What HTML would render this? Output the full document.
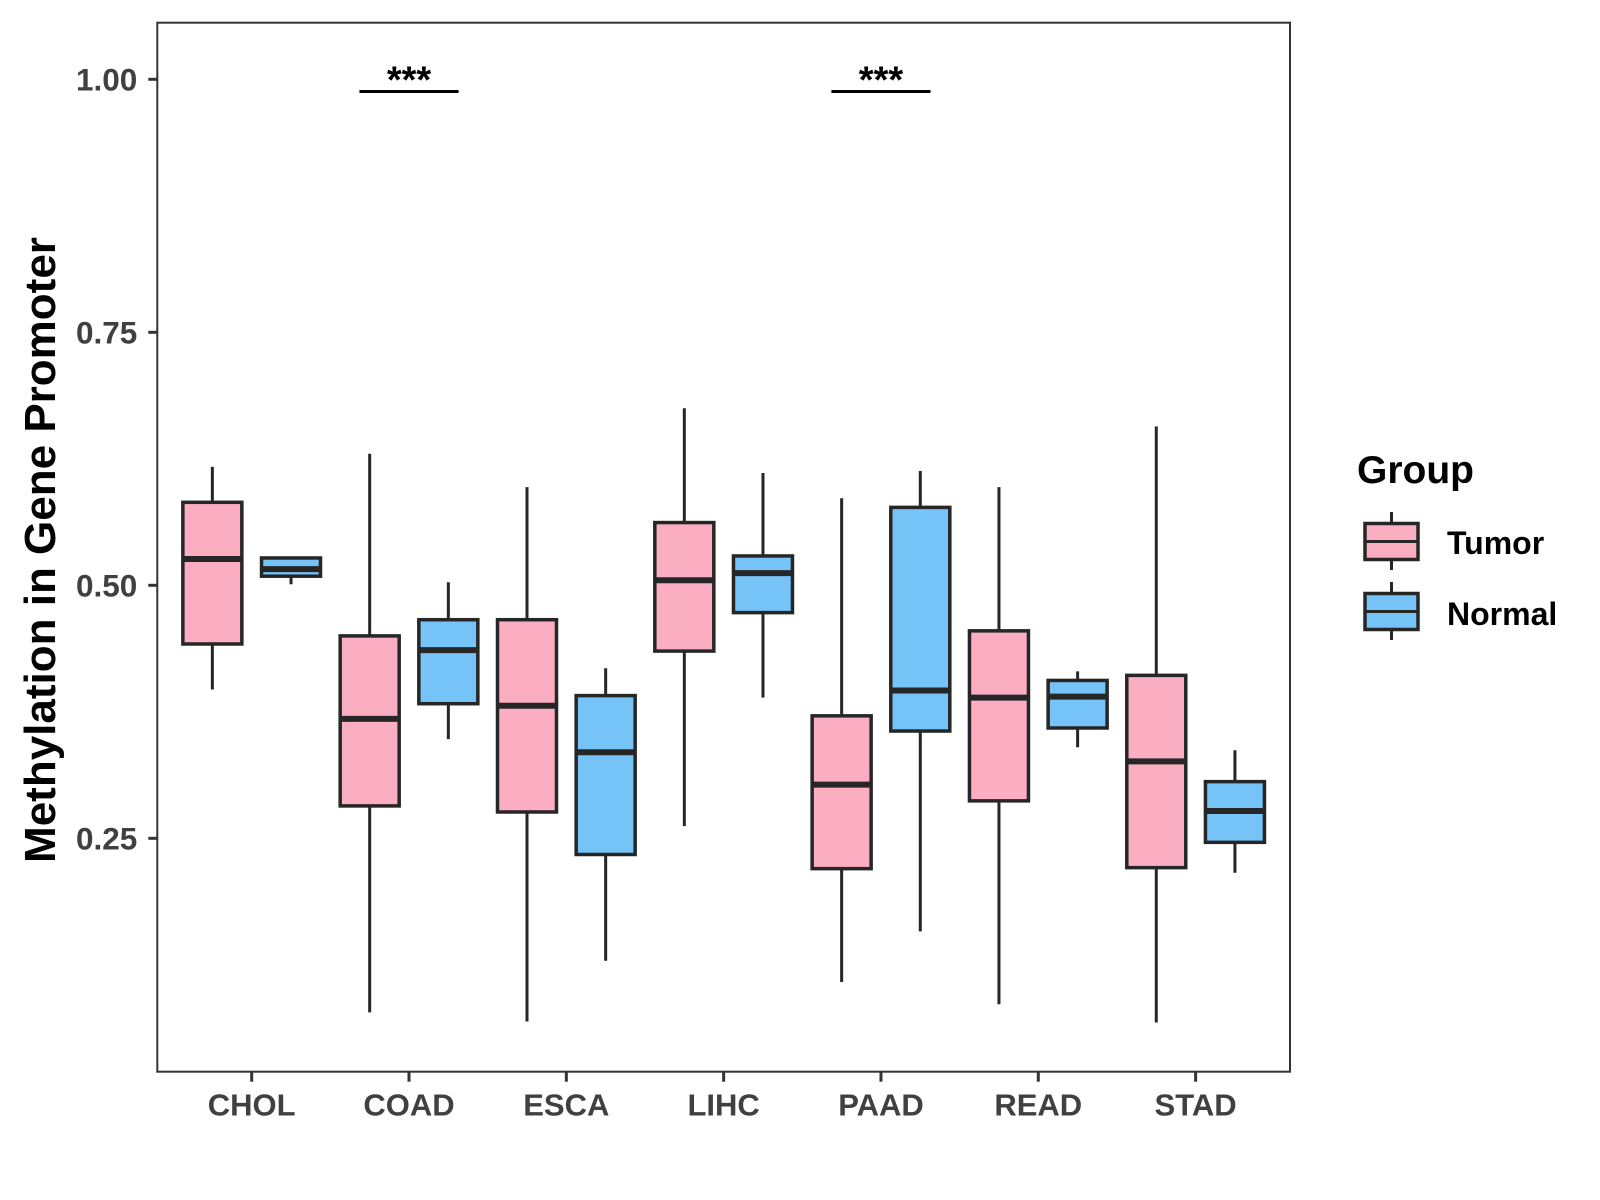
<!DOCTYPE html>
<html><head><meta charset="utf-8"><style>
html,body{margin:0;padding:0;background:#fff;}
svg{display:block;font-family:"Liberation Sans",Arial,sans-serif;}
</style></head><body>
<svg id="chart" width="1600" height="1200" viewBox="0 0 1600 1200">
<rect x="0" y="0" width="1600" height="1200" fill="#fff"/>
<g id="marks"></g>
<rect x="157.3" y="22.7" width="1132.7" height="1049" fill="none" stroke="#333" stroke-width="2"/>
<g id="axes"></g>
<text transform="translate(55,550) rotate(-90)" text-anchor="middle" font-size="44" font-weight="bold" fill="#000">Methylation in Gene Promoter</text>
<g>
<text x="1357" y="483" font-size="39" font-weight="bold" fill="#000">Group</text>
<g>
<line x1="1391.5" y1="512" x2="1391.5" y2="570" stroke="#262626" stroke-width="3"/>
<rect x="1365" y="523.5" width="53" height="36" fill="#FBAEC1" stroke="#262626" stroke-width="3.5"/>
<line x1="1365" y1="541.5" x2="1418" y2="541.5" stroke="#262626" stroke-width="3"/>
<text x="1447" y="554" font-size="32" font-weight="bold" fill="#000">Tumor</text>
</g>
<g>
<line x1="1391.5" y1="582" x2="1391.5" y2="640" stroke="#262626" stroke-width="3"/>
<rect x="1365" y="593.5" width="53" height="36" fill="#76C3F8" stroke="#262626" stroke-width="3.5"/>
<line x1="1365" y1="611.5" x2="1418" y2="611.5" stroke="#262626" stroke-width="3"/>
<text x="1447" y="625" font-size="32" font-weight="bold" fill="#000">Normal</text>
</g>
</g>
</svg>
<script>
const categories = ["CHOL","COAD","ESCA","LIHC","PAAD","READ","STAD"];
const groups = ["Tumor","Normal"];
const tumorLow    = [0.397,0.078,0.069,0.262,0.108,0.086,0.068];
const tumorQ1     = [0.442,0.282,0.276,0.435,0.220,0.287,0.221];
const tumorMedian = [0.526,0.368,0.381,0.505,0.303,0.389,0.326];
const tumorQ3     = [0.582,0.450,0.466,0.562,0.371,0.455,0.411];
const tumorHigh   = [0.617,0.630,0.597,0.675,0.586,0.597,0.657];
const normalLow    = [0.501,0.348,0.129,0.389,0.158,0.340,0.216];
const normalQ1     = [0.509,0.383,0.234,0.473,0.356,0.359,0.246];
const normalMedian = [0.516,0.436,0.335,0.512,0.396,0.390,0.277];
const normalQ3     = [0.527,0.466,0.391,0.529,0.577,0.406,0.306];
const normalHigh   = [0.527,0.503,0.418,0.611,0.613,0.415,0.337];
const yTicks = [0.25,0.50,0.75,1.00];
const yTickLabels = ["0.25","0.50","0.75","1.00"];
const sigCategories = ["COAD","PAAD"];
const sigLabels = ["***","***"];
const sigLevel = 0.988;

const NS="http://www.w3.org/2000/svg";
const panelLeft=157.3, panelRight=1290, panelBottom=1071.7;
const step=(panelRight-panelLeft)/7.2;
function xScale(i){return panelLeft+step*(i+0.6);}
function yScale(v){return 79.3+(1-v)*1012;}
function mk(tag,attrs,parent){const e=document.createElementNS(NS,tag);for(const k in attrs)e.setAttribute(k,attrs[k]);parent.appendChild(e);return e;}
const marks=document.getElementById('marks');
const axes=document.getElementById('axes');
const bw=step*0.375, off=step*0.25;
const series=[
 {name:"tumor",fill:"#FBAEC1",lo:tumorLow,q1:tumorQ1,md:tumorMedian,q3:tumorQ3,hi:tumorHigh,d:-off},
 {name:"normal",fill:"#76C3F8",lo:normalLow,q1:normalQ1,md:normalMedian,q3:normalQ3,hi:normalHigh,d:off}
];
categories.forEach((c,i)=>{
 series.forEach(s=>{
  const cx=xScale(i)+s.d;
  const g=mk('g',{},marks);
  
  
  mk('line',{x1:cx,x2:cx,y1:yScale(s.hi[i]),y2:yScale(s.lo[i]),stroke:'#262626','stroke-width':3},g);
  mk('rect',{x:cx-bw/2,y:yScale(s.q3[i]),width:bw,height:yScale(s.q1[i])-yScale(s.q3[i]),fill:s.fill,stroke:'#262626','stroke-width':3.5},g);
  mk('line',{x1:cx-bw/2,x2:cx+bw/2,y1:yScale(s.md[i]),y2:yScale(s.md[i]),stroke:'#262626','stroke-width':6},g);
 });
});
sigCategories.forEach((c,k)=>{
 const i=categories.indexOf(c);
 const g=mk('g',{},marks);
 
 
 const y=yScale(sigLevel);
 mk('line',{x1:xScale(i)-off*1.26,x2:xScale(i)+off*1.26,y1:y,y2:y,stroke:'#000','stroke-width':3},g);
 const t=mk('text',{x:xScale(i),y:y+1,'text-anchor':'middle','font-size':38,'font-weight':'bold',fill:'#000'},g);
 t.textContent=sigLabels[k];
});
yTicks.forEach((v,k)=>{
 const y=yScale(v);
 const l=mk('line',{x1:panelLeft-9,x2:panelLeft,y1:y,y2:y,stroke:'#333','stroke-width':3},axes);
 
 
 const t=mk('text',{x:panelLeft-20,y:y+11,'text-anchor':'end','font-size':31.5,'font-weight':'bold',fill:'#404040'},axes);
 
 
 t.textContent=yTickLabels[k];
});
categories.forEach((c,i)=>{
 const x=xScale(i);
 const l=mk('line',{x1:x,x2:x,y1:panelBottom,y2:panelBottom+10,stroke:'#333','stroke-width':3},axes);
 
 
 const t=mk('text',{x:x,y:panelBottom+44,'text-anchor':'middle','font-size':31,'font-weight':'bold',fill:'#404040'},axes);
 
 
 t.textContent=c;
});
</script>
</body></html>
